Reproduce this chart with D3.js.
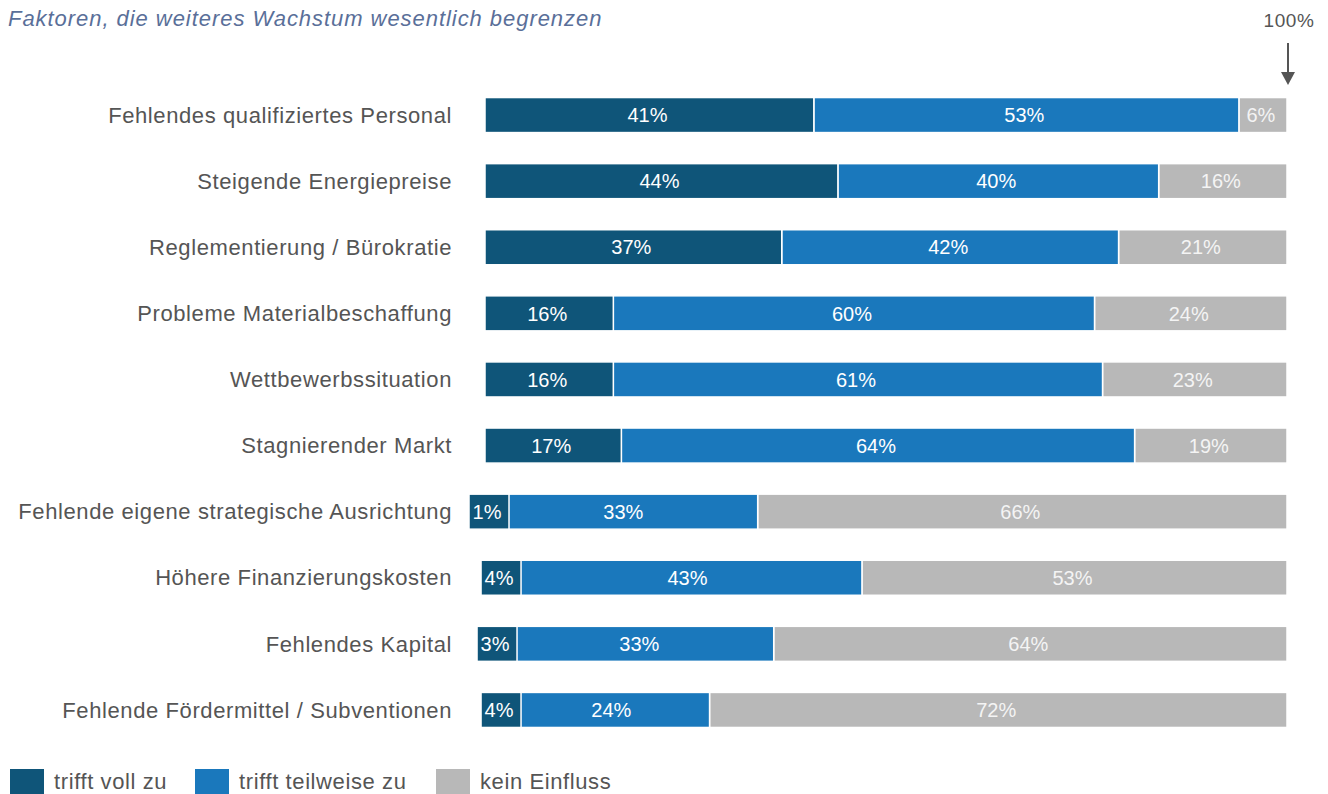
<!DOCTYPE html>
<html>
<head>
<meta charset="utf-8">
<script src="https://cdn.jsdelivr.net/npm/d3@7"></script>
<style>
  html, body { margin: 0; padding: 0; background: #fff; }
  svg { display: block; font-family: "Liberation Sans", Arial, sans-serif; }
</style>
</head>
<body>
<svg id="chart" width="1328" height="794"></svg>
<script>
// Faktoren, die weiteres Wachstum begrenzen – Anteile je Antwortkategorie in %
const categories = [
  "Fehlendes qualifiziertes Personal",
  "Steigende Energiepreise",
  "Reglementierung / Bürokratie",
  "Probleme Materialbeschaffung",
  "Wettbewerbssituation",
  "Stagnierender Markt",
  "Fehlende eigene strategische Ausrichtung",
  "Höhere Finanzierungskosten",
  "Fehlendes Kapital",
  "Fehlende Fördermittel / Subventionen"
];
const voll      = [41, 44, 37, 16, 16, 17, 1, 4, 3, 4];
const teilweise = [53, 40, 42, 60, 61, 64, 33, 43, 33, 24];
const keiner    = [6, 16, 21, 24, 23, 19, 66, 53, 64, 72];
const seriesNames = ["trifft voll zu", "trifft teilweise zu", "kein Einfluss"];
const colors = ["#0f5579", "#1a78bc", "#b8b8b8"];

const svg = d3.select("#chart");

const x = d3.scaleLinear().domain([0, 100]).range([485, 1287]);
const y = d3.scaleBand().domain(categories).range([82, 743]).paddingInner(0.47).paddingOuter(0.235);

// Stack the three series per category
const rows = categories.map((c, i) => ({ cat: c, voll: voll[i], teilweise: teilweise[i], keiner: keiner[i] }));
const stack = d3.stack().keys(["voll", "teilweise", "keiner"])(rows);

// Title
svg.append("text")
  .attr("x", 8).attr("y", 26)
  .attr("font-size", 22).attr("font-style", "italic")
  .attr("letter-spacing", 0.95)
  .attr("fill", "#5a6f99")
  .text("Faktoren, die weiteres Wachstum wesentlich begrenzen");

// 100% marker with arrow
svg.append("text")
  .attr("x", x(100) + 2).attr("y", 27)
  .attr("text-anchor", "middle")
  .attr("font-size", 19).attr("letter-spacing", 0.6).attr("fill", "#555")
  .text("100%");
svg.append("line")
  .attr("x1", x(100) + 1).attr("x2", x(100) + 1)
  .attr("y1", 43).attr("y2", 74)
  .attr("stroke", "#555").attr("stroke-width", 2);
svg.append("path")
  .attr("d", d3.line()([[x(100) - 6, 72], [x(100) + 8, 72], [x(100) + 1, 85]]) + "Z")
  .attr("fill", "#555");

// Category labels
svg.append("g").selectAll("text")
  .data(categories)
  .join("text")
  .attr("x", 452)
  .attr("y", d => y(d) + y.bandwidth() / 2)
  .attr("dy", "0.35em")
  .attr("text-anchor", "end")
  .attr("font-size", 22)
  .attr("letter-spacing", 0.6)
  .attr("fill", "#555")
  .text(d => d);

const minW = 40;
// Draw the later segments first so the short first segment box sits on top
const order = [2, 1, 0];
order.forEach(k => {
  const layer = stack[k];
  const g = svg.append("g");
  layer.forEach((s, i) => {
    const cat = categories[i];
    const x0 = x(s[0]), x1 = x(s[1]);
    let rx = x0, rw = x1 - x0;
    if (k === 0 && rw < minW) {
      const c = (x0 + x1) / 2;
      rx = c - minW / 2; rw = minW;
    }
    g.append("rect")
      .attr("x", rx).attr("y", y(cat))
      .attr("width", rw).attr("height", y.bandwidth())
      .attr("fill", colors[k])
      .attr("stroke", "#fff").attr("stroke-width", 1.5);
    const val = s[1] - s[0];
    g.append("text")
      .attr("x", rx + rw / 2 - 2)
      .attr("y", y(cat) + y.bandwidth() / 2)
      .attr("dy", "0.36em")
      .attr("text-anchor", "middle")
      .attr("font-size", 20)
      .attr("fill", k === 2 ? "#f4f4f4" : "#fff")
      .text(val + "%");
  });
});

// Legend
const legendX = [10, 195, 436];
const lg = svg.append("g");
seriesNames.forEach((n, i) => {
  lg.append("rect")
    .attr("x", legendX[i]).attr("y", 769)
    .attr("width", 34).attr("height", 34)
    .attr("fill", colors[i]);
  lg.append("text")
    .attr("x", legendX[i] + 44).attr("y", 789)
    .attr("font-size", 22).attr("letter-spacing", 0.6).attr("fill", "#555")
    .text(n);
});
</script>
</body>
</html>
